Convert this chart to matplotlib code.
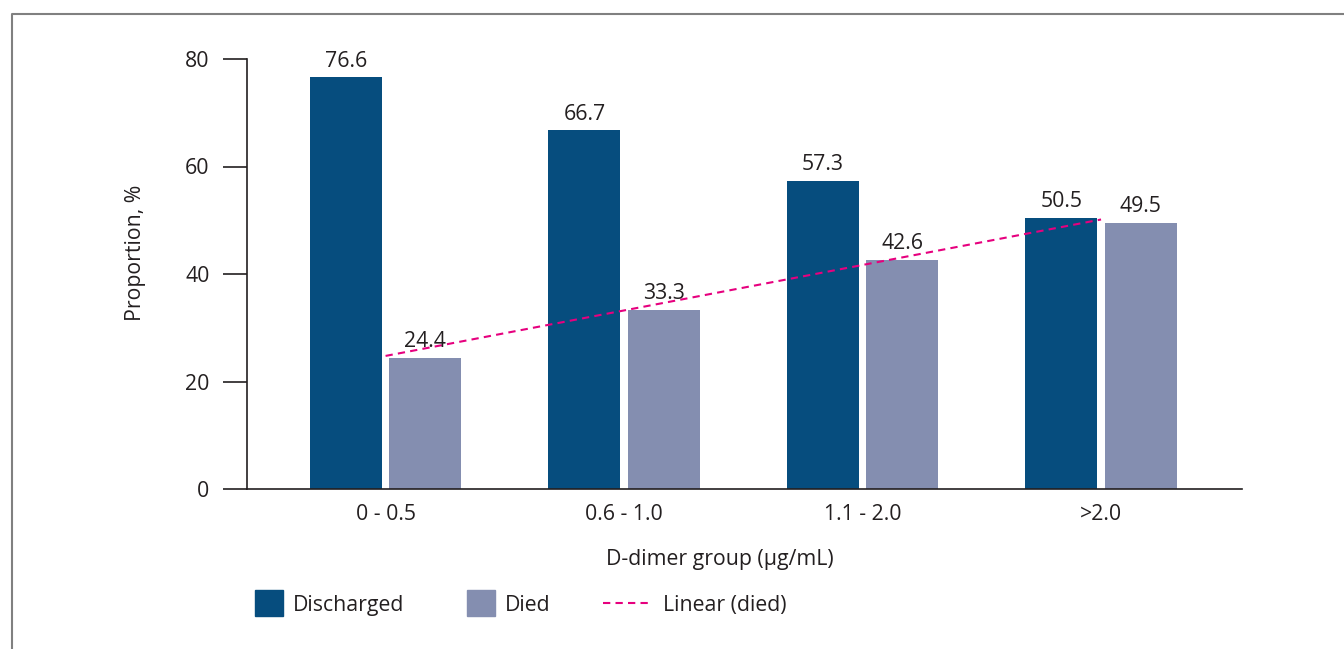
import matplotlib.pyplot as plt
import numpy as np
from matplotlib.patches import Rectangle
from matplotlib.lines import Line2D

plt.rcParams['font.family'] = ['Open Sans', 'DejaVu Sans']

# data
groups = ["0 - 0.5", "0.6 - 1.0", "1.1 - 2.0", ">2.0"]
discharged = [76.6, 66.7, 57.3, 50.5]
died = [24.4, 33.3, 42.6, 49.5]

c_dis = "#064d7e"
c_died = "#848eb0"
c_trend = "#e6007e"
c_text = "#231f20"
fs = 15.3

W, H = 1344, 649
fig = plt.figure(figsize=(W / 100, H / 100), dpi=100)
ax = fig.add_axes([247 / W, 1 - 489 / H, (1242 - 247) / W, (489 - 59) / H])

x = np.arange(len(groups))
bw = 0.302
off = 0.166
b1 = ax.bar(x - off, discharged, bw, color=c_dis)
b2 = ax.bar(x + off, died, bw, color=c_died)
for bars, vals in ((b1, discharged), (b2, died)):
    for b, v in zip(bars, vals):
        ax.annotate(f"{v:.1f}", (b.get_x() + b.get_width() / 2, v), xytext=(0, 4),
                    textcoords="offset points", ha="center", va="bottom",
                    fontsize=fs, color=c_text)

# linear trend of died
k, m = np.polyfit(x + 1, died, 1)
ax.plot(x, k * (x + 1) + m, color=c_trend, lw=1.5, ls=(0, (3.5, 2.5)))

ax.set_xlim(-0.581, 3.591)
ax.set_ylim(0, 80)
ax.set_yticks([0, 20, 40, 60, 80])
ax.set_xticks(x)
ax.set_xticklabels(groups)
ax.tick_params(axis="y", length=17, width=1.2, color=c_text, pad=10, labelsize=fs, labelcolor=c_text)
ax.tick_params(axis="x", length=0, pad=11, labelsize=fs, labelcolor=c_text)
for s in ("top", "right"):
    ax.spines[s].set_visible(False)
for s in ("left", "bottom"):
    ax.spines[s].set_linewidth(1.2)
    ax.spines[s].set_color(c_text)

ax.set_ylabel("Proportion, %", fontsize=fs, color=c_text)
ax.yaxis.set_label_coords((146 - 247) / (1242 - 247), 0.55)
fig.text(720 / W, 1 - 560 / H, "D-dimer group (µg/mL)", ha="center", va="center",
         fontsize=fs, color=c_text)

# legend
ly = 1 - 603 / H
lb = 1 - 611 / H
sw, sh = 28 / W, 26 / H
fig.patches.append(Rectangle((255 / W, ly - sh / 2), sw, sh, color=c_dis, transform=fig.transFigure))
fig.text(293 / W, lb, "Discharged", va="baseline", fontsize=fs, color=c_text)
fig.patches.append(Rectangle((467 / W, ly - sh / 2), sw, sh, color=c_died, transform=fig.transFigure))
fig.text(505 / W, lb, "Died", va="baseline", fontsize=fs, color=c_text)
fig.lines.append(Line2D([603 / W, 653 / W], [ly, ly], color=c_trend, lw=1.5, ls=(0, (3.5, 2.5)),
                        transform=fig.transFigure))
fig.text(663 / W, lb, "Linear (died)", va="baseline", fontsize=fs, color=c_text)

# frame
fig.lines.append(Line2D([11.5 / W, 11.5 / W, 1.0], [0, 1 - 14 / H, 1 - 14 / H], color="#808080",
                        lw=1.5, transform=fig.transFigure))

fig.savefig("out.png", dpi=100)
